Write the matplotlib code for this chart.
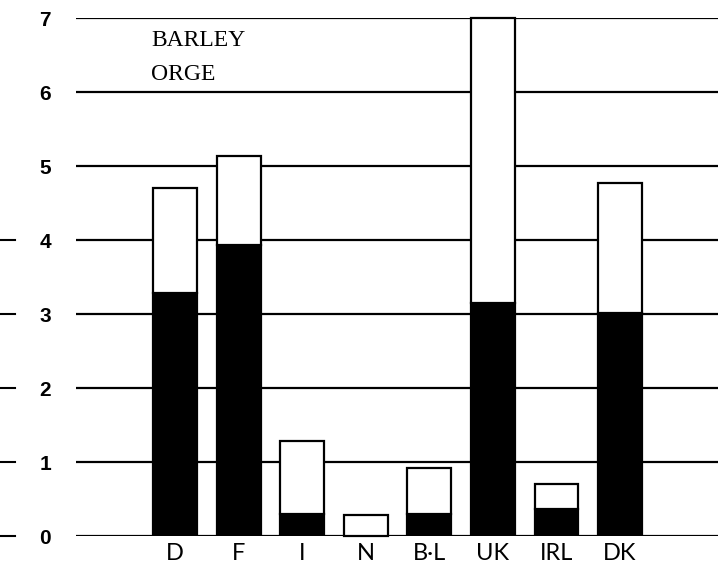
import matplotlib.pyplot as plt
import matplotlib.transforms as mtransforms

countries = ['D', 'F', 'I', 'N', 'B·L', 'UK', 'IRL', 'DK']
# black (lower) part and total height of each bar
black_part = [3.28, 3.93, 0.30, 0.0, 0.30, 3.15, 0.36, 3.01]
total = [4.70, 5.14, 1.28, 0.28, 0.92, 7.0, 0.70, 4.77]
white_part = [t - b for t, b in zip(total, black_part)]
y_ticks = [0, 1, 2, 3, 4, 5, 6, 7]
dash_ticks = [0, 1, 2, 3, 4]

fig = plt.figure(figsize=(7.28, 5.72), dpi=100)
ax = fig.add_axes([76 / 728, 36 / 572, (718 - 76) / 728, (536 - 18) / 572])

x = [1.56 + i for i in range(len(countries))]
ax.set_xlim(0, 10.1)
ax.set_ylim(0, 7)

for y in y_ticks:
    ax.axhline(y, color='black', lw=1.6, zorder=1)

ax.bar(x, black_part, width=0.69, color='black', edgecolor='black', lw=1.6, zorder=2)
ax.bar(x, white_part, bottom=black_part, width=0.69, color='white',
       edgecolor='black', lw=1.6, zorder=2, clip_on=False)

for s in ax.spines.values():
    s.set_visible(False)

ax.set_xticks(x)
ax.set_xticklabels(countries, fontsize=17, family='Lato')
ax.tick_params(axis='x', length=0, pad=5)
ax.set_yticks(y_ticks)
ax.set_yticklabels([str(v) for v in y_ticks], fontsize=15, family='Liberation Sans',
                   fontweight='bold')
ax.tick_params(axis='y', length=0, pad=18)

trans = mtransforms.blended_transform_factory(fig.transFigure, ax.transData)
for y in dash_ticks:
    ax.plot([0, 15 / 728], [y, y], color='black', lw=1.5, transform=trans, clip_on=False)

fig.text(151 / 728, 1 - 40 / 572, 'BARLEY', fontsize=17, family='Liberation Serif',
         va='center', ha='left')
fig.text(151 / 728, 1 - 74 / 572, 'ORGE', fontsize=17, family='Liberation Serif',
         va='center', ha='left')

fig.savefig('out.png', dpi=100)
